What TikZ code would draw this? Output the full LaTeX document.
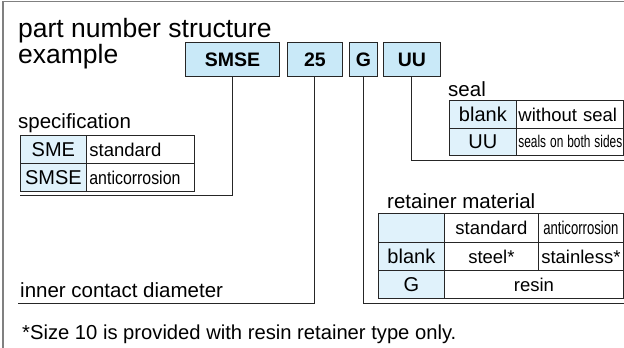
\documentclass[tikz,border=0pt]{standalone}
\usepackage{fontspec}
\setmainfont{Liberation Sans}
\definecolor{hdrblue}{HTML}{C9E9F8}
\definecolor{keyblue}{HTML}{E0F2FB}
\definecolor{framegray}{HTML}{808080}
\definecolor{linegray}{HTML}{262626}
\begin{document}
\begin{tikzpicture}[x=1pt,y=-1pt,
  hdr/.style={draw=linegray, fill=hdrblue, line width=0.9pt, font=\bfseries\fontsize{19.5}{20}\selectfont, inner sep=0pt, anchor=north west, minimum height=34pt},
  cell/.style={draw=linegray, line width=0.8pt, inner sep=0pt, anchor=north west, font=\fontsize{18.5}{20}\selectfont},
  lcell/.style={cell, align=left, inner xsep=3pt},
  key/.style={cell, fill=keyblue, font=\fontsize{20}{22}\selectfont},
  lbl/.style={anchor=base west, inner sep=0pt, font=\fontsize{20.5}{22}\selectfont},
  title/.style={anchor=base west, inner sep=0pt, font=\fontsize{26.5}{24}\selectfont},
  conn/.style={draw=linegray, line width=1pt},
  frame/.style={draw=framegray, line width=1.4pt}]
\useasboundingbox (0,0) rectangle (624,348);
% frame
\draw[frame] (3,348) -- (3,1.5) -- (624,1.5);
% title
\node[title] (t1) at (18,37) {part number structure};
\node[title] (t2) at (18,63) {example};
% header boxes
\node[hdr, minimum width=94pt] (smse) at (185,42) {SMSE};
\node[hdr, minimum width=55pt] (n25) at (287,42) {25};
\node[hdr, minimum width=28pt] (g) at (349,42) {G};
\node[hdr, minimum width=57pt] (uu) at (383,42) {UU};
% specification table
\node[lbl] (spec) at (18,128) {specification};
\node[key, minimum width=66pt, minimum height=28pt] (s11) at (20,135) {SME};
\node[lcell, text width=102pt, minimum height=28pt] (s12) at (86,135) {standard};
\node[key, minimum width=66pt, minimum height=28pt] (s21) at (20,163) {SMSE};
\node[lcell, text width=102pt, minimum height=28pt] (s22) at (86,163) {\scalebox{0.86}[1]{anticorrosion}};
% seal table
\node[lbl] (seal) at (448,96) {seal};
\node[key, minimum width=67pt, minimum height=28pt] (e11) at (449,100) {blank};
\node[lcell, inner xsep=2pt, text width=103pt, minimum height=28pt] (e12) at (516,100) {without seal};
\node[key, minimum width=67pt, minimum height=27pt] (e21) at (449,128) {UU};
\node[lcell, inner xsep=2pt, text width=103pt, minimum height=27pt, font=\fontsize{17}{18}\selectfont] (e22) at (516,128) {\scalebox{0.70}[1]{seals on both sides}};
% retainer table
\node[lbl] (ret) at (387,208) {retainer material};
\node[key, minimum width=66pt, minimum height=29pt] (r11) at (378,213) {};
\node[cell, minimum width=94pt, minimum height=29pt] (r12) at (444,213) {standard};
\node[cell, minimum width=85pt, minimum height=29pt] (r13) at (538,213) {\scalebox{0.71}[1]{anticorrosion}};
\node[key, minimum width=66pt, minimum height=28pt] (r21) at (378,242) {blank};
\node[cell, minimum width=94pt, minimum height=28pt] (r22) at (444,242) {steel*};
\node[cell, minimum width=85pt, minimum height=28pt] (r23) at (538,242) {stainless*};
\node[key, minimum width=66pt, minimum height=28pt] (r31) at (378,270) {G};
\node[cell, minimum width=179pt, minimum height=28pt] (r32) at (444,270) {resin};
% connectors
\coordinate (c1) at (20,195);
\coordinate (c2) at (18,303);
\coordinate (c3) at (624,303);
\coordinate (c4) at (624,160);
\draw[conn] (smse.south) |- (c1);
\draw[conn] (n25.south) |- (c2);
\draw[conn] (g.south) |- (c3);
\draw[conn] (uu.south) |- (c4);
% labels
\node[lbl] (icd) at (20,297) {inner contact diameter};
\node[lbl, font=\fontsize{20.2}{22}\selectfont] (foot) at (22,339) {*Size 10 is provided with resin retainer type only.};
\end{tikzpicture}
\end{document}
